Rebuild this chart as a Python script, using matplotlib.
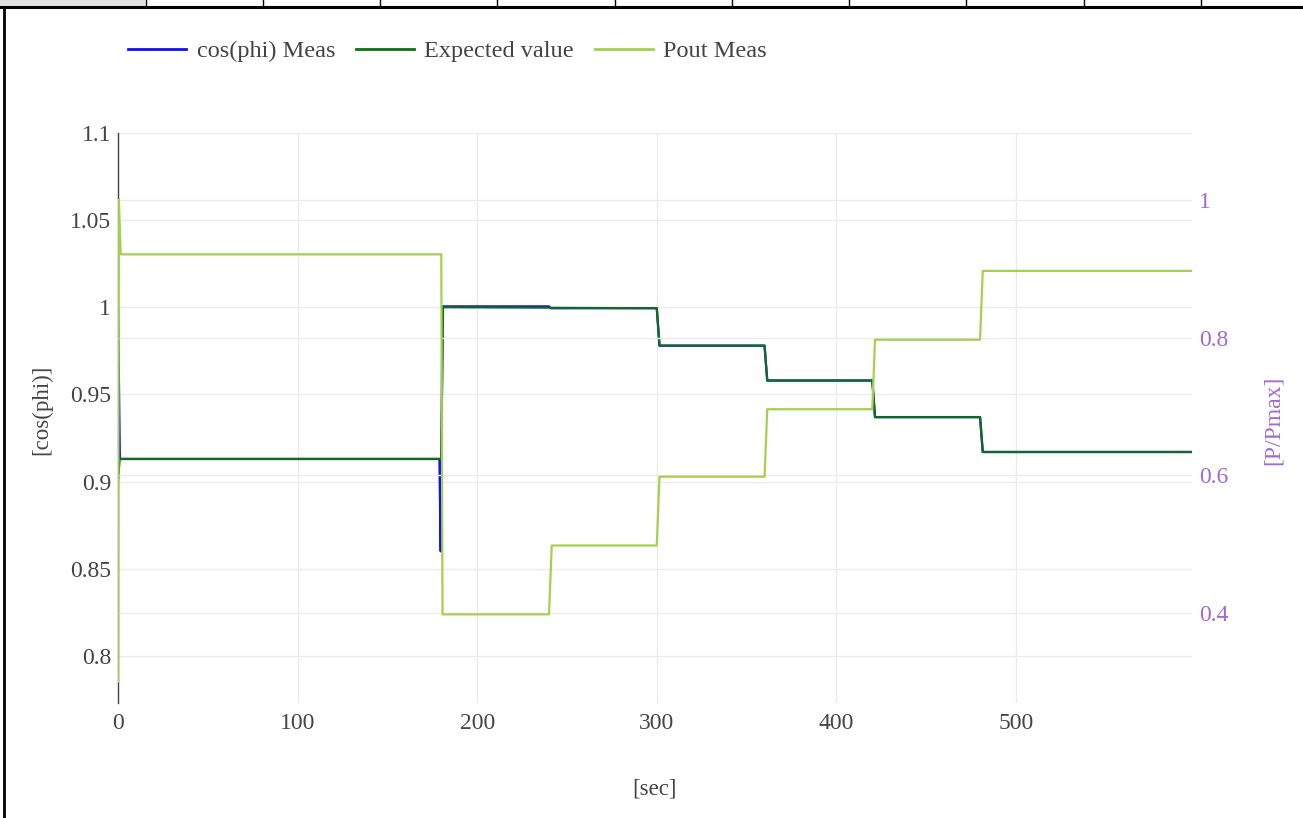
import matplotlib
matplotlib.use("Agg")
import matplotlib.pyplot as plt
from matplotlib.ticker import FuncFormatter
from matplotlib.lines import Line2D
from matplotlib.patches import Rectangle

# ---------------- data ----------------
cos_t = [0, 1, 179, 179.7, 180.7, 240, 241, 300, 301.5, 360, 361.5, 420, 421.5, 480, 481.5, 598]
cos_v = [1.0, 0.913, 0.913, 0.86, 1.0005, 1.0005, 0.9995, 0.9995, 0.978, 0.978, 0.958, 0.958,
         0.937, 0.937, 0.917, 0.917]

exp_t = [0, 1, 180, 181, 300, 301.5, 360, 361.5, 420, 421.5, 480, 481.5, 598]
exp_v = [0.9, 0.913, 0.913, 1.0, 0.9995, 0.978, 0.978, 0.958, 0.958, 0.937, 0.937, 0.917, 0.917]

pout_t = [0, 0.5, 1.5, 180, 180.7, 240, 241.5, 300, 301.5, 360, 361.5, 420, 421.5, 480, 481.5, 598]
pout_v = [0.30, 1.0, 0.921, 0.921, 0.398, 0.398, 0.498, 0.498, 0.598, 0.598, 0.696, 0.696,
          0.797, 0.797, 0.897, 0.897]

x_ticks = [0, 100, 200, 300, 400, 500]
left_ticks = [0.8, 0.85, 0.9, 0.95, 1.0, 1.05, 1.1]
right_ticks = [0.4, 0.6, 0.8, 1.0]
series_names = ["cos(phi) Meas", "Expected value", "Pout Meas"]

# ---------------- style ----------------
FONT = "Liberation Serif"
plt.rcParams["font.family"] = [FONT, "DejaVu Serif"]
C_BLUE = "#1010f5"
C_DGREEN = "#116e16"
C_LGREEN = "#a6cf4e"
C_PURPLE = "#a06ad4"
C_TXT = "#444444"
C_GRID = "#ebebeb"

W, H = 1303, 818
fig = plt.figure(figsize=(W / 100, H / 100), dpi=100)
L, R, T, B = 118, 1192, 133, 703
ax = fig.add_axes([L / W, 1 - B / H, (R - L) / W, (B - T) / H])
ax2 = ax.twinx()

ax.plot(cos_t, cos_v, color=C_BLUE, lw=1.7, zorder=3)
ax.plot(exp_t, exp_v, color=C_DGREEN, lw=1.5, zorder=4)
ax2.plot(pout_t, pout_v, color=C_LGREEN, lw=1.6, zorder=3)

ax.set_xlim(0, 598)
ax.set_ylim(0.773, 1.1)
ax2.set_ylim(0.2692, 1.0973)

ax.set_xticks(x_ticks)
ax.set_yticks(left_ticks)
ax2.set_yticks(right_ticks)
fmt = FuncFormatter(lambda v, p: f"{v:g}")
ax.yaxis.set_major_formatter(fmt)
ax2.yaxis.set_major_formatter(fmt)

ax.grid(True, color=C_GRID, lw=1.0, zorder=0)
ax2.grid(True, axis="y", color=C_GRID, lw=1.0, zorder=0)
ax.set_axisbelow(True)
ax2.set_axisbelow(True)

for a in (ax, ax2):
    for s in a.spines.values():
        s.set_visible(False)
ax.spines["left"].set_visible(True)
ax.spines["left"].set_color(C_TXT)
ax.spines["left"].set_linewidth(1.0)
ax.spines["left"].set_zorder(1)

ax.tick_params(axis="both", length=0, labelsize=17, colors=C_TXT, pad=5)
ax.tick_params(axis="x", pad=7)
ax2.tick_params(axis="y", length=0, labelsize=17, colors=C_PURPLE, pad=5)

ax.set_ylabel("[cos(phi)]", fontsize=16.5, color=C_TXT)
ax.yaxis.set_label_coords(-0.0615, 0.514)
ax2.set_ylabel("[P/Pmax]", fontsize=17, color=C_PURPLE)
ax2.yaxis.set_label_coords(1.066, 0.496)
ax.set_xlabel("[sec]", fontsize=16.5, color=C_TXT)
ax.xaxis.set_label_coords(0.5, -0.133)

# legend
handles = [Line2D([], [], color=c, lw=2) for c in (C_BLUE, C_DGREEN, C_LGREEN)]
leg = fig.legend(handles, series_names, loc="center left",
                 bbox_to_anchor=(128 / W, 1 - 51 / H), ncol=3, frameon=False,
                 fontsize=17.5, handlelength=2.4, handletextpad=0.42,
                 columnspacing=0.85, borderpad=0, borderaxespad=0)
for t in leg.get_texts():
    t.set_color(C_TXT)

# page decorations: table row strip on top and left border
fig.add_artist(Rectangle((0, 1 - 6 / H), 145 / W, 6 / H, transform=fig.transFigure,
                         facecolor="#e0e0e0", edgecolor="none"))
fig.add_artist(Line2D([0, 1], [1 - 7 / H, 1 - 7 / H], transform=fig.transFigure,
                      color="black", lw=2.2))
for xd in [146, 263, 380, 497, 615, 732, 849, 966, 1084, 1201]:
    fig.add_artist(Line2D([xd / W, xd / W], [1 - 7 / H, 1], transform=fig.transFigure,
                          color="black", lw=1.0))
fig.add_artist(Line2D([3.5 / W, 3.5 / W], [0, 1 - 7 / H], transform=fig.transFigure,
                      color="black", lw=2.0))

fig.savefig("out.png", dpi=100, facecolor="white")
